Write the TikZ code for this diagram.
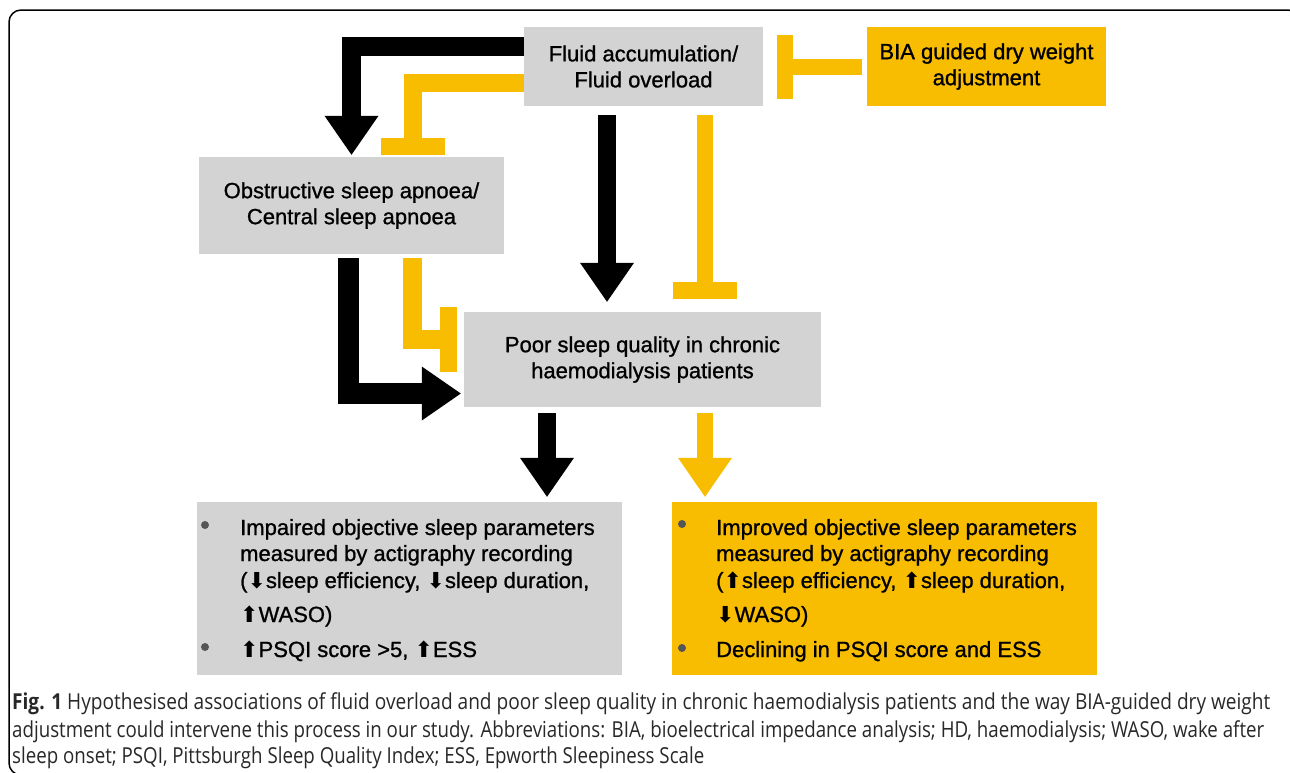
\documentclass[tikz,border=0pt]{standalone}
\usepackage{fontspec}
\usepackage{graphicx}
\setmainfont{Liberation Sans}
\newfontfamily\boxfont{Liberation Sans}[FakeBold=1.0]
\newfontfamily\capfont{Open Sans}
\newfontfamily\symfont{DejaVu Sans}
\usetikzlibrary{arrows.meta}
\definecolor{boxgray}{RGB}{212,211,212}
\definecolor{ylw}{RGB}{248,188,0}
\definecolor{bulletgray}{RGB}{85,85,85}
\definecolor{captextcol}{RGB}{40,40,40}
\newcommand\upar{{\symfont ⬆}}
\newcommand\dnar{{\symfont ⬇}}
\tikzset{
  gbox/.style={fill=boxgray, draw=none, inner sep=0pt, align=center,
    font=\boxfont\fontsize{22}{26}\selectfont, text=black},
  ybox/.style={gbox, fill=ylw},
  blkarrow/.style={line width=18pt, black,
    -{Triangle[width=54pt,length=39pt,line width=0pt]}},
  ylwarrow/.style={line width=16pt, ylw,
    -{Triangle[width=54pt,length=39pt,line width=0pt]}},
  ylwbar/.style={line width=17pt, ylw,
    -{Rectangle[width=64pt,length=17pt,line width=0pt]}},
  itemtext/.style={anchor=base west, inner sep=0pt,
    font=\boxfont\fontsize{22}{26}\selectfont, text=black},
  bulletdot/.style={circle, fill=bulletgray, minimum size=8pt, inner sep=0pt},
  captext/.style={anchor=base west, inner sep=0pt,
    font=\capfont\fontsize{22}{28}\selectfont, text=captextcol},
}
\begin{document}
\begin{tikzpicture}[x=1pt,y=-1pt]
\useasboundingbox (0,0) rectangle (1290,772);
\fill[white] (0,0) rectangle (1290,772);
\begin{scope}
  \clip (0,0) rectangle (1290,772);
  \draw[line width=1.5pt, rounded corners=12pt] (9,10) rectangle (1300,775);
\end{scope}

% boxes
\node[gbox, minimum width=239pt, minimum height=79pt] (fluid) at (643.5,66.5)
  {Fluid accumulation/\\Fluid overload};
\node[ybox, minimum width=239pt, minimum height=79pt] (bia) at (986.5,66.5)
  {BIA guided dry weight\\adjustment};
\node[gbox, minimum width=305pt, minimum height=97pt] (osa) at (351.5,205.5)
  {Obstructive sleep apnoea/\\Central sleep apnoea};
\node[gbox, minimum width=357pt, minimum height=95pt] (poor) at (642.5,359.5)
  {Poor sleep quality in chronic\\haemodialysis patients};
\node[gbox, minimum width=425pt, minimum height=173pt] (impaired) at (409.5,588.5) {};
\node[ybox, minimum width=425pt, minimum height=173pt] (improved) at (884.5,588.5) {};

% left bottom box text
\node[bulletdot] (b1) at (205,525) {};
\node[bulletdot] (b2) at (205,647) {};
\node[itemtext] (l1) at (240,535) {Impaired objective sleep parameters};
\node[itemtext] (l2) at (240,561) {measured by actigraphy recording};
\node[itemtext] (l3) at (240,588) {(\dnar sleep efficiency, \dnar sleep duration,};
\node[itemtext] (l4) at (240,622) {\upar WASO)};
\node[itemtext] (l5) at (240,657) {\upar PSQI score >5, \upar ESS};

% right bottom box text
\node[bulletdot] (c1) at (682,524) {};
\node[bulletdot] (c2) at (682,648) {};
\node[itemtext] (r1) at (716,535) {Improved objective sleep parameters};
\node[itemtext] (r2) at (716,561) {measured by actigraphy recording};
\node[itemtext] (r3) at (716,588) {(\upar sleep efficiency, \upar sleep duration,};
\node[itemtext] (r4) at (716,622) {\dnar WASO)};
\node[itemtext] (r5) at (716,657) {Declining in PSQI score and ESS};

% connectors
\draw[blkarrow, line width=19pt, shorten >=2pt] ([yshift=20pt]fluid.west) -| (osa.north);
\draw[ylwbar, line width=18pt, shorten >=2pt] ([yshift=-16pt]fluid.west) -| ([xshift=61pt]osa.north);
\draw[blkarrow, shorten <=9pt, shorten >=10pt] ([xshift=-36.5pt]fluid.south) -- ([xshift=-35.5pt]poor.north);
\draw[ylwbar, line width=16pt, shorten <=9pt, shorten >=13pt] ([xshift=61.5pt]fluid.south) -- ([xshift=62.5pt]poor.north);
\draw[blkarrow, line width=21pt, shorten <=4pt, shorten >=3pt] ([xshift=-3pt]osa.south) |- ([yshift=-34pt]poor.west);
\draw[ylwbar, line width=19pt, -{Rectangle[width=65pt,length=17pt,line width=0pt]},
  shorten <=4pt, shorten >=7pt] ([xshift=61pt]osa.south) |- ([yshift=20pt]poor.west);
\coordinate (a4s) at ([xshift=-95.5pt]poor.south);
\coordinate (y4s) at ([xshift=62.5pt]poor.south);
\draw[blkarrow, shorten <=6pt, shorten >=5pt] (a4s) -- (a4s |- impaired.north);
\draw[ylwarrow, shorten <=6pt, shorten >=5pt] (y4s) -- (y4s |- improved.north);
\draw[ylwbar, line width=16pt, -{Rectangle[width=64pt,length=16pt,line width=0pt]},
  shorten <=5pt, shorten >=14pt] (bia.west) -- (fluid.east);

% caption
\node[captext] (cap1) at (12,709) {\resizebox{1258pt}{\height}{\textbf{Fig. 1} Hypothesised associations of fluid overload and poor sleep quality in chronic haemodialysis patients and the way BIA-guided dry weight}};
\node[captext] (cap2) at (12,737) {\resizebox{1252pt}{\height}{adjustment could intervene this process in our study. Abbreviations: BIA, bioelectrical impedance analysis; HD, haemodialysis; WASO, wake after}};
\node[captext] (cap3) at (12,763) {\resizebox{692pt}{\height}{sleep onset; PSQI, Pittsburgh Sleep Quality Index; ESS, Epworth Sleepiness Scale}};
\end{tikzpicture}
\end{document}
